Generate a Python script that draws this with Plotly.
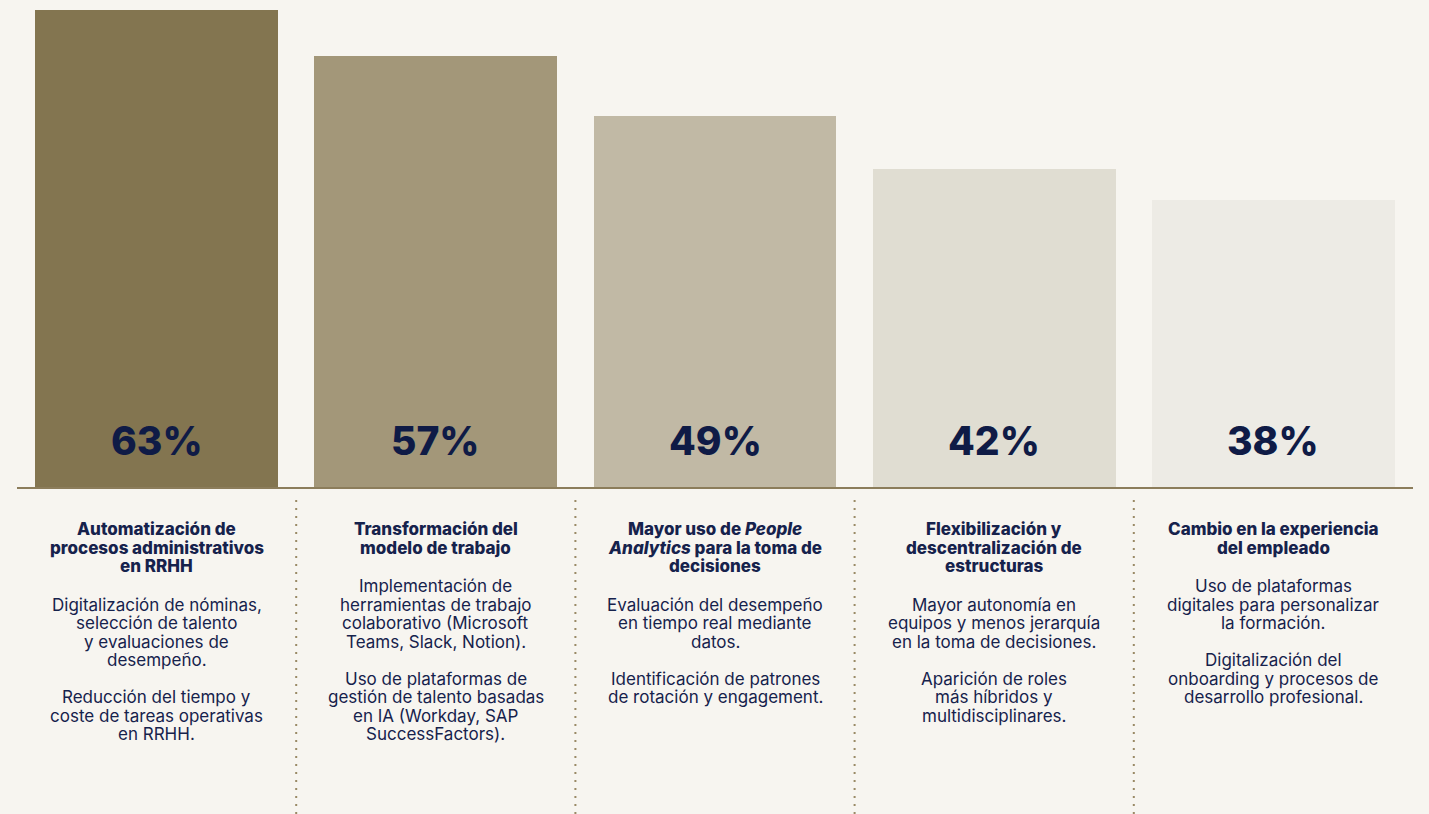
import plotly.graph_objects as go

# Share of companies reporting each HR transformation
values = [63, 57, 49, 42, 38]
bar_colors = ["#837550", "#A39779", "#C1B9A5", "#E0DDD2", "#EDEBE5"]

titles = [
    ["Automatización de", "procesos administrativos", "en RRHH"],
    ["Transformación del", "modelo de trabajo"],
    ["Mayor uso de <i>People</i>", "<i>Analytics</i> para la toma de", "decisiones"],
    ["Flexibilización y", "descentralización de", "estructuras"],
    ["Cambio en la experiencia", "del empleado"],
]

descriptions = [
    [["Digitalización de nóminas,", "selección de talento", "y evaluaciones de", "desempeño."],
     ["Reducción del tiempo y", "coste de tareas operativas", "en RRHH."]],
    [["Implementación de", "herramientas de trabajo", "colaborativo (Microsoft", "Teams, Slack, Notion)."],
     ["Uso de plataformas de", "gestión de talento basadas", "en IA (Workday, SAP", "SuccessFactors)."]],
    [["Evaluación del desempeño", "en tiempo real mediante", "datos."],
     ["Identificación de patrones", "de rotación y engagement."]],
    [["Mayor autonomía en", "equipos y menos jerarquía", "en la toma de decisiones."],
     ["Aparición de roles", "más híbridos y", "multidisciplinares."]],
    [["Uso de plataformas", "digitales para personalizar", "la formación."],
     ["Digitalización del", "onboarding y procesos de", "desarrollo profesional."]],
]

W, H = 1429, 814
BASE_PX = 488          # pixel row of the zero line
TOP_PX = 10            # pixel row of the tallest bar
NAVY = "#0F1B46"
TEXT = "#16224C"
FONT = "Inter"

scale = (BASE_PX - TOP_PX) / max(values)
y_top = BASE_PX / scale
y_bottom = -(H - BASE_PX) / scale

x = list(range(len(values)))

fig = go.Figure(
    go.Bar(
        x=x,
        y=values,
        width=0.87,
        marker=dict(color=bar_colors, line=dict(width=0)),
        hoverinfo="skip",
    )
)


def py(pixel_row):
    return 1 - pixel_row / H


annotations = []
for i, v in enumerate(values):
    annotations.append(dict(
        x=i, y=0, xref="x", yref="y", yshift=48,
        text=f"{v}%", showarrow=False, yanchor="middle", xanchor="center",
        font=dict(family=FONT, size=39, color=NAVY, weight=800),
    ))

LINE = 18.5
for i, (title, paras) in enumerate(zip(titles, descriptions)):
    row = 529
    for line in title:
        annotations.append(dict(
            x=i, y=py(row), xref="x", yref="paper", text=line, showarrow=False,
            xanchor="center", yanchor="middle", borderpad=0,
            font=dict(family=FONT, size=17, color=TEXT, weight=800),
        ))
        row += LINE
    row += LINE * 1.1
    for p in paras:
        for line in p:
            annotations.append(dict(
                x=i, y=py(row), xref="x", yref="paper", text=line, showarrow=False,
                xanchor="center", yanchor="middle", borderpad=0,
                font=dict(family=FONT, size=17, color=TEXT),
            ))
            row += LINE
        row += LINE

shapes = [dict(
    type="line", xref="paper", yref="y", x0=0, x1=1, y0=0, y1=0,
    line=dict(color="#8C7D5B", width=2), layer="above",
)]
for i in range(len(values) - 1):
    shapes.append(dict(
        type="line", xref="x", yref="paper", x0=i + 0.5, x1=i + 0.5,
        y0=py(500), y1=py(H), line=dict(color="#9A8A66", width=2, dash="2px,6px"),
    ))

fig.update_layout(
    width=W, height=H, autosize=False,
    margin=dict(l=17, r=16, t=0, b=0),
    paper_bgcolor="#F7F5F0", plot_bgcolor="#F7F5F0",
    showlegend=False,
    xaxis=dict(range=[-0.5, len(values) - 0.5], visible=False, fixedrange=True),
    yaxis=dict(range=[y_bottom, y_top], visible=False, fixedrange=True),
    annotations=annotations,
    shapes=shapes,
    bargap=0,
)

fig.write_html("out.html", config={"displayModeBar": False})
